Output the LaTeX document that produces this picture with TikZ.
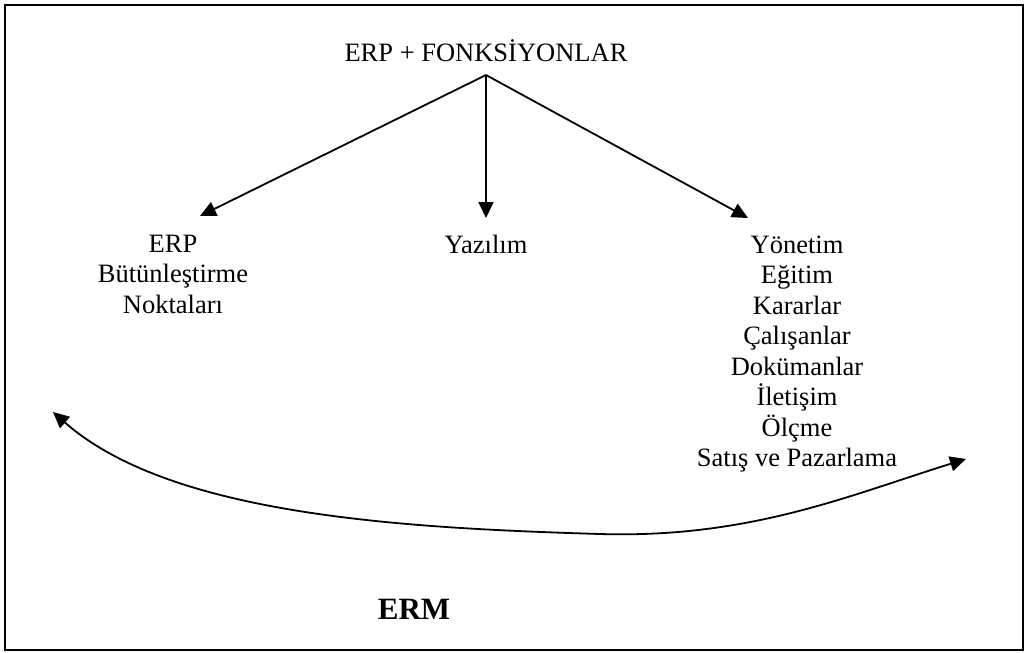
\documentclass[tikz,border=0pt]{standalone}
\usepackage{fontspec}
\setmainfont{Liberation Serif}
\usetikzlibrary{arrows.meta}
\begin{document}
\begin{tikzpicture}[x=1pt,y=-1pt,
  label/.style={inner sep=0pt, align=center, anchor=north,
    font=\fontsize{26.5pt}{30.5pt}\selectfont},
  link/.style={line width=1.8pt, -{Triangle[length=16pt,width=15pt]}},
  cycle arrow/.style={line width=1.8pt, {Triangle[length=16pt,width=15pt]}-{Triangle[length=16pt,width=15pt]}}]
  \useasboundingbox (0,0) rectangle (1028,653);
  \fill[white] (0,0) rectangle (1028,653);
  % outer frame
  \draw[line width=1.8pt] (5,5) rectangle (1023,650);

  % top concept
  \node[inner sep=0pt, anchor=base, font=\fontsize{26.5pt}{30.5pt}\selectfont] (top) at (486,61) {ERP + FONKSİYONLAR};
  \coordinate (apex) at (486,75);

  % three branches
  \node[label] (left) at (173,234.5) {ERP\\Bütünleştirme\\Noktaları};
  \node[label] (mid) at (486,235) {Yazılım};
  \node[label] (right) at (797,235.5) {Yönetim\\Eğitim\\Kararlar\\Çalışanlar\\Dokümanlar\\İletişim\\Ölçme\\Satış ve Pazarlama};

  \coordinate (tipL) at (200,216);
  \coordinate (tipM) at (486,218);
  \coordinate (tipR) at (748,218);
  \draw[link] (apex) -- (tipL);
  \draw[link] (apex) -- (tipM);
  \draw[link] (apex) -- (tipR);

  % cycle arrow beneath
  \coordinate (cycL) at (53,412);
  \coordinate (cycM) at (600,534);
  \coordinate (cycR) at (966,459);
  \draw[cycle arrow] (cycL) .. controls (170,515) and (400,528) .. (cycM)
    .. controls (750,538.5) and (850,495) .. (cycR);

  \node[inner sep=0pt, anchor=base, font=\fontsize{31pt}{36pt}\selectfont\bfseries] (erm) at (414,619) {ERM};
\end{tikzpicture}
\end{document}
